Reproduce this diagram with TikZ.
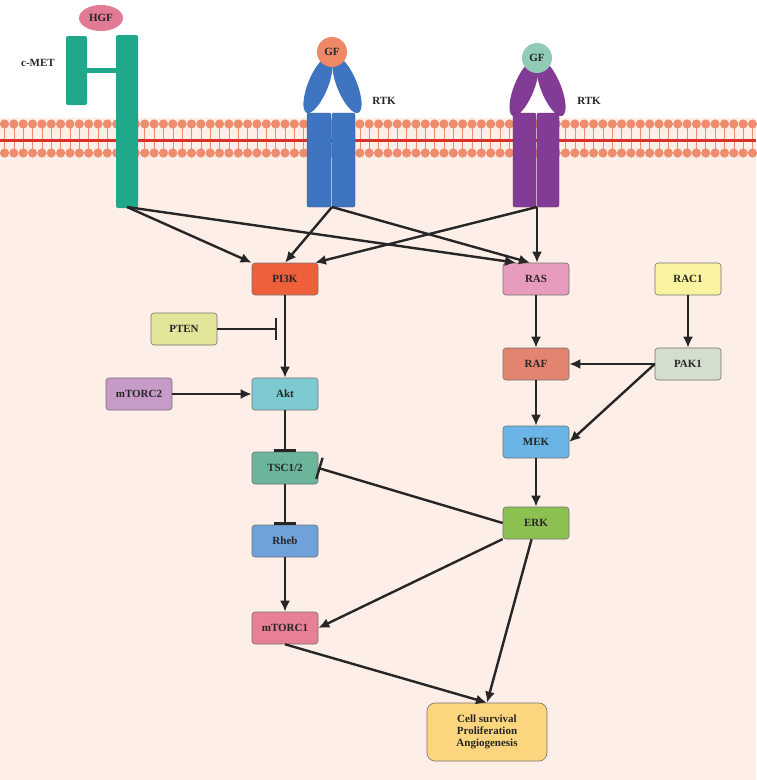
\documentclass[tikz,border=0pt]{standalone}
\usepackage{fontspec}
\setmainfont{Liberation Serif}
\usetikzlibrary{arrows.meta,shapes.geometric}
\definecolor{bg}{HTML}{FDEEE8}
\definecolor{lip}{HTML}{EE8C6E}
\definecolor{memred}{HTML}{D9302A}
\definecolor{met}{HTML}{20A88A}
\definecolor{rtkb}{HTML}{3F74C0}
\definecolor{rtkp}{HTML}{833C96}
\begin{document}
\begin{tikzpicture}[x=1pt,y=-1pt,
  box/.style={draw=black!55,rounded corners=3pt,minimum width=66pt,minimum height=32pt,font=\bfseries\fontsize{11}{12}\selectfont,text=black!85,line width=0.6pt},
  arr/.style={line width=2.4pt,draw=black!85,-{Latex[length=11pt,width=10pt]}},
  inh/.style={line width=2.4pt,draw=black!85,-{Bar[width=22pt,line width=2.4pt]}},
  lbl/.style={font=\bfseries\fontsize{11}{12}\selectfont,text=black!85}]
\useasboundingbox (0,0) rectangle (756,780);
\fill[bg] (0,118) rectangle (756,780);
% membrane
\foreach \i in {0,...,80}{
  \draw[lip,line width=0.6pt] (4.5+9.35*\i,127)--(4.5+9.35*\i,149);
}
\draw[memred,line width=3pt] (0,140)--(756,140);
\foreach \i in {0,...,80}{
  \fill[lip] (4.5+9.35*\i,124) circle (4.6);
  \fill[lip] (4.5+9.35*\i,153) circle (4.6);
}
% c-MET
\fill[met,rounded corners=2pt] (66,36) rectangle (87,105);
\fill[met,rounded corners=2pt] (116,35) rectangle (138,208);
\fill[met] (87,68) rectangle (116,73);
\node[ellipse,fill={rgb,255:red,224;green,122;blue,149},minimum width=44pt,minimum height=26pt,inner sep=0pt,lbl] (hgf) at (101,18) {HGF};
\node[lbl] (cmet) at (38,63) {c-MET};
% blue RTK
\fill[rtkb,rotate around={-22:(318,85)}] (318,85) ellipse (10 and 30);
\fill[rtkb,rotate around={22:(347,85)}] (347,85) ellipse (10 and 30);
\draw[rtkb!70!black,fill=rtkb,rounded corners=2pt] (307,113) rectangle (331,207);
\draw[rtkb!70!black,fill=rtkb,rounded corners=2pt] (332,113) rectangle (355,207);
\node[circle,fill={rgb,255:red,238;green,136;blue,102},minimum size=30pt,inner sep=0pt,lbl] (gf1) at (332,52) {GF};
\node[lbl] (rtk1) at (384,101) {RTK};
\coordinate (b1) at (332,207);
% purple RTK
\fill[rtkp,rotate around={-22:(524,88)}] (524,88) ellipse (10 and 30);
\fill[rtkp,rotate around={22:(551,88)}] (551,88) ellipse (10 and 30);
\draw[rtkp!70!black,fill=rtkp,rounded corners=2pt] (513,113) rectangle (536,207);
\draw[rtkp!70!black,fill=rtkp,rounded corners=2pt] (537,113) rectangle (559,207);
\node[circle,fill={rgb,255:red,143;green,203;blue,181},minimum size=30pt,inner sep=0pt,lbl] (gf2) at (537,58) {GF};
\node[lbl] (rtk2) at (589,101) {RTK};
\coordinate (b2) at (537,207);
\coordinate (b0) at (127,207);
% nodes
\node[box,fill={rgb,255:red,238;green,95;blue,60}] (pi3k) at (285,279) {PI3K};
\node[box,fill={rgb,255:red,232;green,156;blue,189}] (ras) at (536,279) {RAS};
\node[box,fill={rgb,255:red,250;green,243;blue,160}] (rac1) at (688,279) {RAC1};
\node[box,fill={rgb,255:red,227;green,230;blue,152}] (pten) at (184,329) {PTEN};
\node[box,fill={rgb,255:red,226;green,132;blue,112}] (raf) at (536,364) {RAF};
\node[box,fill={rgb,255:red,212;green,222;blue,204}] (pak1) at (688,364) {PAK1};
\node[box,fill={rgb,255:red,199;green,155;blue,200}] (mtorc2) at (139,394) {mTORC2};
\node[box,fill={rgb,255:red,126;green,202;blue,211}] (akt) at (285,394) {Akt};
\node[box,fill={rgb,255:red,106;green,180;blue,230}] (mek) at (536,442) {MEK};
\node[box,fill={rgb,255:red,107;green,181;blue,154}] (tsc) at (285,468) {TSC1/2};
\node[box,fill={rgb,255:red,140;green,193;blue,82}] (erk) at (536,523) {ERK};
\node[box,fill={rgb,255:red,111;green,162;blue,218}] (rheb) at (285,541) {Rheb};
\node[box,fill={rgb,255:red,232;green,128;blue,149}] (mtorc1) at (285,628) {mTORC1};
\node[box,fill={rgb,255:red,252;green,214;blue,126},minimum width=120pt,minimum height=58pt,align=center,rounded corners=8pt] (cell) at (487,732) {Cell survival\\Proliferation\\Angiogenesis};
% connectors
\draw[arr] (b0) -- (pi3k.north west);
\draw[arr] (b0) -- ([xshift=-20pt]ras.north);
\draw[arr] (b1) -- ([xshift=0pt]pi3k.north);
\draw[arr] (b1) -- ([xshift=-6pt]ras.north);
\draw[arr] (b2) -- ([xshift=30pt]pi3k.north);
\draw[arr] (b2) -- (ras.north-|b2);
\draw[arr] (pi3k) -- (akt);
\coordinate (pb) at (277,329);
\draw[inh] (pten) -- (pb);
\draw[arr] (mtorc2) -- (akt);
\draw[inh] (akt) -- (tsc);
\draw[inh] (tsc) -- (rheb);
\draw[arr] (rheb) -- (mtorc1);
\draw[inh] (erk.west) -- (tsc.east);
\draw[arr] (erk) -- (mtorc1.east);
\draw[arr] (erk) -- (cell.north);
\draw[arr] (mtorc1.south) -- (cell.north);
\draw[arr] (ras) -- (raf);
\draw[arr] (raf) -- (mek);
\draw[arr] (mek) -- (erk);
\draw[arr] (rac1) -- (pak1);
\draw[arr] (pak1.west) -- (raf.east);
\draw[arr] (pak1.west) -- (mek.east);
\end{tikzpicture}
\end{document}
